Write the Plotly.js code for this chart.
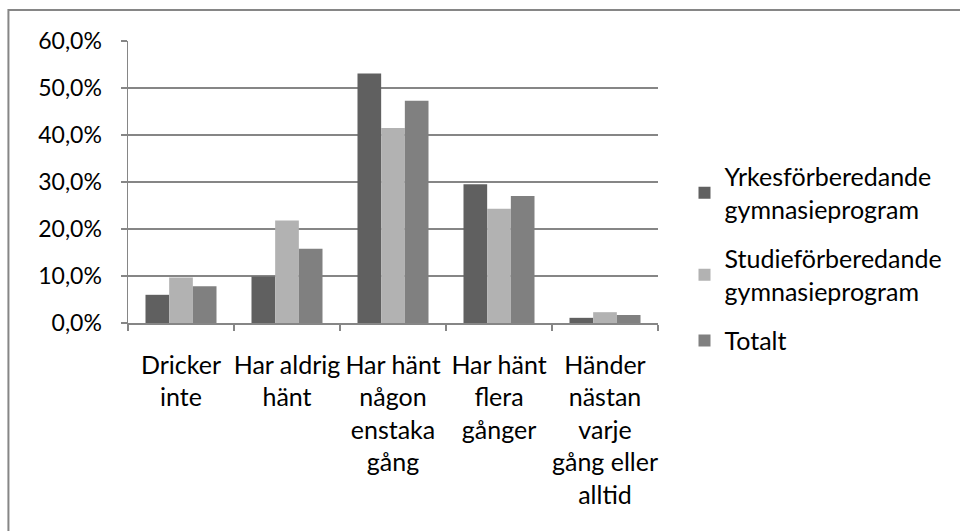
<!DOCTYPE html>
<html>
<head>
<meta charset="utf-8">
<script src="https://cdn.plot.ly/plotly-3.0.1.min.js"></script>
<style>html,body{margin:0;padding:0;background:#fff;}#chart{width:960px;height:531px;}</style>
</head>
<body>
<div id="chart"></div>
<script>
const categories = [
  "Dricker<br>inte",
  "Har aldrig<br>hänt",
  "Har hänt<br>någon<br>enstaka<br>gång",
  "Har hänt<br>flera<br>gånger",
  "Händer<br>nästan<br>varje<br>gång eller<br>alltid"
];
const seriesNames = [
  "Yrkesförberedande<br>gymnasieprogram",
  "Studieförberedande<br>gymnasieprogram",
  "Totalt"
];
const yrkes = [6.0, 9.9, 53.1, 29.5, 1.1];
const studie = [9.7, 21.8, 41.5, 24.3, 2.3];
const totalt = [7.8, 15.8, 47.3, 27.0, 1.7];
const colors = ["#606060", "#b2b2b2", "#808080"];
const yTicks = [0, 10, 20, 30, 40, 50, 60];

const family = "Lato, 'Open Sans', sans-serif";
const yFont = {family: family, size: 23, color: "#000"};
const bigFont = {family: family, size: 25, color: "#000"};
const seriesValues = [yrkes, studie, totalt];
const traces = seriesValues.map((vals, i) => ({
  type: "bar",
  name: seriesNames[i],
  legendgroup: "g" + i,
  x: categories,
  y: vals,
  marker: {color: colors[i], line: {width: 0}},
  hoverinfo: "y"
}));

const layout = {
  width: 960,
  height: 531,
  margin: {l: 128, r: 300, t: 41, b: 208},
  paper_bgcolor: "#fff",
  plot_bgcolor: "#fff",
  font: bigFont,
  separators: ", ",
  barmode: "group",
  bargap: 0.33,
  bargroupgap: 0,
  showlegend: true,
  legend: {
    x: 1.05, y: 0.60, xanchor: "left", yanchor: "top",
    font: bigFont,
    itemwidth: 30,
    tracegroupgap: 14,
    traceorder: "grouped"
  },
  xaxis: {
    type: "category",
    showline: true, linecolor: "#868686", linewidth: 1.5,
    ticks: "outside", ticklen: 6, tickcolor: "#868686", tickwidth: 1.5,
    tickson: "boundaries",
    showgrid: false,
    tickangle: 0,
    ticklabelstandoff: 19,
    tickfont: bigFont
  },
  yaxis: {
    range: [0, 60],
    tickvals: yTicks,
    ticktext: yTicks.map(v => v.toFixed(1).replace(".", ",") + "%"),
    showline: true, linecolor: "#868686", linewidth: 1.5,
    ticks: "outside", ticklen: 6, tickcolor: "#868686", tickwidth: 1.5,
    showgrid: true, gridcolor: "#868686", gridwidth: 1.5,
    zeroline: false,
    ticklabelstandoff: 14,
    tickfont: yFont,
    fixedrange: true
  },
  shapes: [{
    type: "rect", xref: "paper", yref: "paper",
    x0: -0.2256, x1: 3, y0: -2, y1: 1.110,
    line: {color: "#868686", width: 2}, fillcolor: "rgba(0,0,0,0)", layer: "below"
  }]
};

Plotly.newPlot("chart", traces, layout, {displayModeBar: false, staticPlot: true});
</script>
</body>
</html>
